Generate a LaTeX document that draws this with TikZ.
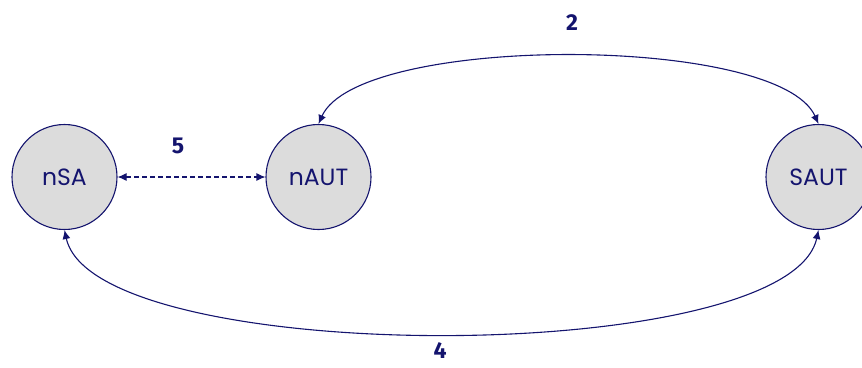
\documentclass[tikz,border=0pt]{standalone}
\usepackage{fontspec}
\setmainfont{Poppins}
\newfontfamily\numfont{Fira Sans}
\usetikzlibrary{arrows.meta}
\definecolor{navy}{HTML}{14146E}
\definecolor{nodegray}{HTML}{DCDCDC}
\tikzset{
  state/.style={circle, draw=navy, fill=nodegray, line width=1.1pt, minimum size=105pt, inner sep=0pt, text=navy, font=\fontsize{23.5}{26}\selectfont},
  conn/.style={draw=navy, line width=1.1pt, {Latex[length=9pt,width=8pt]}-{Latex[length=9pt,width=8pt]}},
  numlabel/.style={text=navy, inner sep=0pt, font=\numfont\bfseries\fontsize{23}{25}\selectfont}
}
\begin{document}
\begin{tikzpicture}[x=1pt,y=1pt]
\useasboundingbox (0,0) rectangle (862,-367);
\node[state] (nSA) at (64.5,-177) {nSA};
\node[state] (nAUT) at (318.5,-177) {nAUT};
\node[state] (SAUT) at (818.5,-177) {SAUT};
\draw[conn, dash pattern=on 5pt off 3pt] (nSA) -- (nAUT);
\draw[conn] (nAUT.north) .. controls +(40,90) and +(-40,90) .. (SAUT.north);
\draw[conn] (nSA.south) .. controls +(30,-138) and +(-30,-138) .. (SAUT.south);
\node[numlabel] (l2) at (572,-23) {2};
\node[numlabel] (l5) at (178,-146) {5};
\node[numlabel] (l4) at (440,-351) {4};
\end{tikzpicture}
\end{document}
